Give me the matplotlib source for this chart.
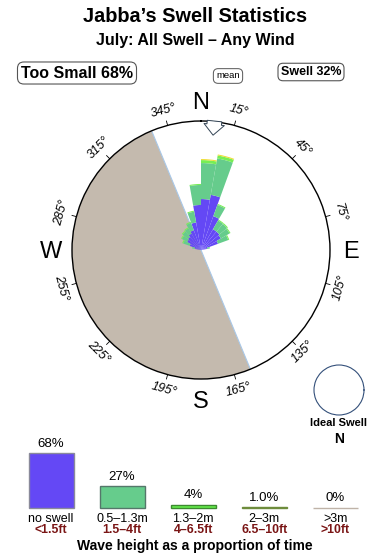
import numpy as np
import matplotlib
matplotlib.use("Agg")
import matplotlib.pyplot as plt

plt.rcParams["font.family"] = ["Liberation Sans", "DejaVu Sans"]

# ---------------------------------------------------------------------------
# Data
# ---------------------------------------------------------------------------
TITLE = "Jabba’s Swell Statistics"
SUBTITLE = "July: All Swell – Any Wind"
too_small_pct = 68
swell_pct = 32

# rose: direction bins (deg, 10 deg wide) and stacked segment lengths
# (units: percent of compass radius)
rose_dirs = [285, 295, 305, 315, 325, 335, 345, 355, 5, 15, 25, 35, 45, 55, 65, 75]
rose_blue = [4.7, 9.3, 12.4, 13.2, 14.7, 16.3, 21.7, 34.9, 39.5, 43.4, 27.9, 18.6, 18.6, 17.8, 14.0, 4.7]
rose_green = [2.3, 5.4, 4.7, 5.4, 4.7, 6.2, 8.5, 15.5, 27.9, 28.7, 9.3, 7.8, 7.8, 7.8, 8.5, 2.3]
rose_lgreen = [0, 0.8, 0.8, 0.8, 0.8, 0.8, 0.8, 0.8, 2.3, 2.3, 0.8, 0.8, 0.8, 0.8, 0.8, 0]
rose_yellow = [0, 0, 0, 0, 0, 0, 0, 0, 0.8, 0.8, 0, 0, 0, 0, 0, 0]
rose_colors = ["#6448F5", "#66CC8C", "#77EE55", "#EEDD33"]

# land sector (clockwise from, to) and mean swell direction
land_from, land_to = 157.5, 337.5
mean_dir = 6

deg_ticks = [15, 45, 75, 105, 135, 165, 195, 225, 255, 285, 315, 345]
compass_pts = ["N", "E", "S", "W"]
compass_deg = [0, 90, 180, 270]

# wave height distribution
size_pcts = [68, 27, 4, 1.0, 0]
pct_labels = ["68%", "27%", "4%", "1.0%", "0%"]
metric_labels = ["no swell", "0.5–1.3m", "1.3–2m", "2–3m", ">3m"]
feet_labels = ["<1.5ft", "1.5–4ft", "4–6.5ft", "6.5–10ft", ">10ft"]
bar_colors = ["#6448F5", "#66CC8C", "#66EE4C", "#6E8C3C", "#BFB3A8"]
bar_edges = ["#8A8A9A", "#55776A", "#3D8A30", "#6E8C3C", "#BFB3A8"]

LAND = "#C4BAAE"
W, H = 390, 560

fig = plt.figure(figsize=(W / 100, H / 100), dpi=100)


def px_axes(cx, cy, r, **kw):
    """Square axes centered at pixel (cx, cy) with half-size r (y from top)."""
    return fig.add_axes([(cx - r) / W, (H - cy - r) / H, 2 * r / W, 2 * r / H], **kw)


# --- header texts ---
fig.text(0.5, 1 - 17 / H, TITLE, ha="center", va="center", fontsize=14.3, fontweight="bold")
fig.text(0.5, 1 - 41 / H, SUBTITLE, ha="center", va="center", fontsize=11.5, fontweight="bold")
box = dict(boxstyle="round,pad=0.22,rounding_size=0.4", fc="white", ec="#555555", lw=0.8)
fig.text(77 / W, 1 - 73 / H, f"Too Small {too_small_pct}%", ha="center", va="center",
         fontsize=11.5, fontweight="bold", bbox=box)
fig.text(311 / W, 1 - 72 / H, f"Swell {swell_pct}%", ha="center", va="center",
         fontsize=9, fontweight="bold", bbox=box)
fig.text(228 / W, 1 - 76 / H, "mean", ha="center", va="center", fontsize=6.8,
         bbox=dict(boxstyle="round,pad=0.3,rounding_size=0.5", fc="white", ec="#555555", lw=0.7))

# --- compass rose ---
ax = px_axes(201, 250, 129, projection="polar")
ax.set_theta_zero_location("N")
ax.set_theta_direction(-1)
ax.set_rlim(0, 100)
ax.set_xticks([])
ax.set_yticks([])
ax.grid(False)
ax.spines["polar"].set_linewidth(1.0)

span = (land_to - land_from) % 360
ax.bar(np.deg2rad(land_from + span / 2), 100, width=np.deg2rad(span), bottom=0,
       color=LAND, linewidth=0, zorder=1)
for d in (land_from, land_to):
    ax.plot([np.deg2rad(d)] * 2, [0, 100], color="#A9C8E8", lw=0.8, zorder=1.5)

theta = np.deg2rad(rose_dirs)
bottom = np.zeros(len(rose_dirs))
for seg, col in zip([rose_blue, rose_green, rose_lgreen, rose_yellow], rose_colors):
    seg = np.array(seg)
    ax.bar(theta, seg, width=np.deg2rad(10), bottom=bottom, color=col,
           linewidth=0, zorder=2)
    bottom += seg

# mean direction arrow
ax.annotate("", xy=(np.deg2rad(mean_dir), 89.5), xytext=(np.deg2rad(mean_dir), 100.5),
            arrowprops=dict(arrowstyle="simple,head_length=0.55,head_width=1.05,tail_width=0.75",
                            fc="white", ec="#334455", lw=0.7, shrinkA=0, shrinkB=0,
                            mutation_scale=14), zorder=4)

for d in deg_ticks:
    t = np.deg2rad(d)
    ax.plot([t, t], [100, 103.5], color="black", lw=0.6, clip_on=False)
    rot = -d if (d < 90 or d > 270) else 180 - d
    ax.text(t, 112, f"{d}°", rotation=rot, rotation_mode="anchor", ha="center", va="center",
            fontsize=9, fontstyle="italic")
for lbl, d in zip(compass_pts, compass_deg):
    ax.text(np.deg2rad(d), 116, lbl, ha="center", va="center_baseline", fontsize=17)

# --- ideal swell mini compass ---
ax2 = px_axes(339, 390, 25, projection="polar")
ax2.set_xticks([])
ax2.set_yticks([])
ax2.grid(False)
ax2.spines["polar"].set_color("#34507A")
ax2.spines["polar"].set_linewidth(0.8)
fig.text(339 / W, 1 - 423 / H, "Ideal Swell", ha="center", va="center", fontsize=8, fontweight="bold")
fig.text(339 / W, 1 - 439 / H, "N", ha="center", va="center", fontsize=10, fontweight="bold")

# --- wave height bars ---
base_y, px_per_pct, top_y = 507.7, 0.8, 440
bx = fig.add_axes([0, (H - base_y) / H, 1, (base_y - top_y) / H])
x = np.arange(len(size_pcts))
pitch = 71.1
bx.set_xlim(-51 / pitch, (W - 51) / pitch)
bx.set_ylim(0, (base_y - top_y) / px_per_pct)
bx.axis("off")
bx.bar(x, size_pcts, width=45 / pitch, color=bar_colors, edgecolor=bar_edges, linewidth=1.0,
       clip_on=False)
for i, (v, lab) in enumerate(zip(size_pcts, pct_labels)):
    bx.annotate(lab, (i, v), xytext=(0, 6.7), textcoords="offset points",
                ha="center", va="center", fontsize=9.5)
    bx.annotate(metric_labels[i], (i, 0), xytext=(0, -7.8), textcoords="offset points",
                ha="center", va="center", fontsize=9, annotation_clip=False)
    bx.annotate(feet_labels[i], (i, 0), xytext=(0, -15.8), textcoords="offset points",
                ha="center", va="center", fontsize=8.8, fontweight="bold", color="#7A1515",
                annotation_clip=False)
fig.text(195 / W, 1 - 546 / H, "Wave height as a proportion of time", ha="center",
         va="center", fontsize=10, fontweight="bold")

fig.savefig("out.png", dpi=100)
